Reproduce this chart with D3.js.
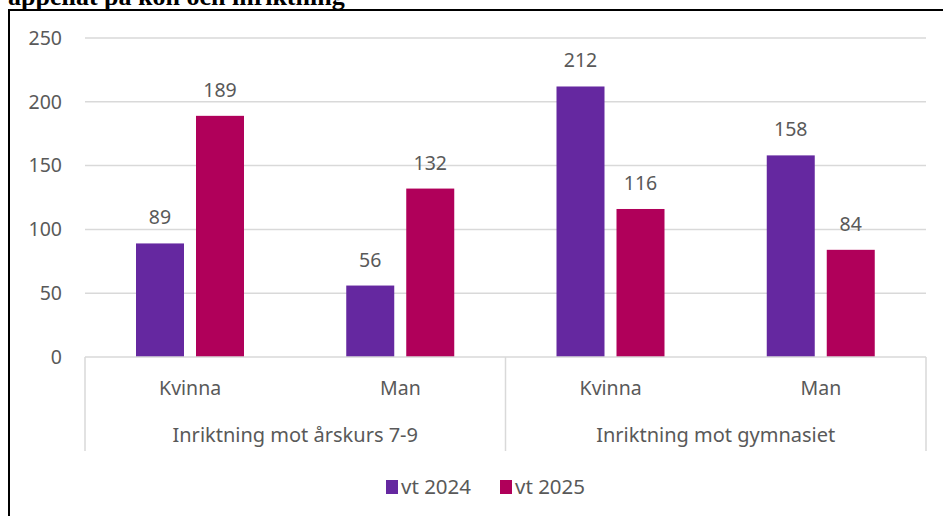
<!DOCTYPE html>
<html>
<head>
<meta charset="utf-8">
<script src="https://cdn.jsdelivr.net/npm/d3@7"></script>
<style>
  body { margin: 0; background: #fff; }
  svg { display: block; }
</style>
</head>
<body>
<script>
const groups = ["Inriktning mot årskurs 7-9", "Inriktning mot gymnasiet"];
const genders = ["Kvinna", "Man"];
const series = ["vt 2024", "vt 2025"];
const vt2024 = [89, 56, 212, 158];
const vt2025 = [189, 132, 116, 84];
const yTicks = [0, 50, 100, 150, 200, 250];
const colors = ["#6528a0", "#b0005a"];

const w = 943, h = 516;
const svg = d3.select("body").append("svg")
  .attr("width", w).attr("height", h);

// cut-off title and frame
svg.append("text")
  .attr("x", 8).attr("y", 5)
  .attr("font-family", "Liberation Serif, serif")
  .attr("font-weight", "bold")
  .attr("font-size", 26)
  .attr("fill", "#000")
  .text("appellat på kön och inriktning");

svg.append("rect")
  .attr("x", 9).attr("y", 10)
  .attr("width", 950).attr("height", 520)
  .attr("fill", "none")
  .attr("stroke", "#000")
  .attr("stroke-width", 2);

const cats = [];
groups.forEach(g => genders.forEach(s => cats.push(g + "|" + s)));

const x0 = d3.scaleBand().domain(cats).range([85, 926]);
const x1 = d3.scaleBand().domain(series).range([51, 159]).paddingInner(0.2);
const y = d3.scaleLinear().domain([0, 250]).range([357, 38]);

const font = "Noto Sans, Open Sans, sans-serif";
const grey = "#595959";
const fs = 19.5;

// gridlines
svg.append("g").selectAll("line")
  .data(yTicks.filter(d => d > 0))
  .join("line")
  .attr("x1", 85).attr("x2", 926)
  .attr("y1", d => y(d)).attr("y2", d => y(d))
  .attr("stroke", "#d9d9d9").attr("stroke-width", 1.5);

// y labels
svg.append("g").selectAll("text")
  .data(yTicks)
  .join("text")
  .attr("x", 62).attr("y", d => y(d))
  .attr("dy", "0.35em")
  .attr("text-anchor", "end")
  .attr("font-family", font).attr("font-size", fs)
  .attr("fill", grey)
  .text(d => d);

const rows = cats.map((c, i) => ({ cat: c, vals: [vt2024[i], vt2025[i]] }));

// bars
const cg = svg.append("g").selectAll("g")
  .data(rows)
  .join("g")
  .attr("transform", d => `translate(${x0(d.cat)},0)`);

cg.selectAll("rect")
  .data(d => d.vals.map((v, i) => ({ s: series[i], v, i })))
  .join("rect")
  .attr("x", d => x1(d.s))
  .attr("width", x1.bandwidth())
  .attr("y", d => y(d.v))
  .attr("height", d => y(0) - y(d.v))
  .attr("fill", d => colors[d.i]);

cg.selectAll("text")
  .data(d => d.vals.map((v, i) => ({ s: series[i], v })))
  .join("text")
  .attr("x", d => x1(d.s) + x1.bandwidth() / 2)
  .attr("y", d => y(d.v) - 19)
  .attr("text-anchor", "middle")
  .attr("font-family", font).attr("font-size", fs)
  .attr("fill", grey)
  .text(d => d.v);

// category axis
const axis = svg.append("g");
axis.append("line")
  .attr("x1", 85).attr("x2", 926)
  .attr("y1", y(0)).attr("y2", y(0))
  .attr("stroke", "#d9d9d9").attr("stroke-width", 1.5);

const seps = [x0(cats[0]), x0(cats[2]), x0(cats[3]) + x0.bandwidth()];
axis.selectAll("line.sep")
  .data(seps)
  .join("line")
  .attr("class", "sep")
  .attr("x1", d => d).attr("x2", d => d)
  .attr("y1", y(0)).attr("y2", 451)
  .attr("stroke", "#d9d9d9").attr("stroke-width", 1.5);

axis.selectAll("text.sub")
  .data(cats)
  .join("text")
  .attr("class", "sub")
  .attr("x", d => x0(d) + x0.bandwidth() / 2)
  .attr("y", 395)
  .attr("text-anchor", "middle")
  .attr("font-family", font).attr("font-size", fs)
  .attr("fill", grey)
  .text(d => d.split("|")[1]);

axis.selectAll("text.grp")
  .data(groups)
  .join("text")
  .attr("class", "grp")
  .attr("x", (d, i) => x0(cats[i * 2]) + x0.bandwidth())
  .attr("y", 442)
  .attr("text-anchor", "middle")
  .attr("font-family", font).attr("font-size", 20)
  .attr("fill", grey)
  .text(d => d);

// legend
const legX = [386, 500];
const leg = svg.append("g").selectAll("g")
  .data(series)
  .join("g")
  .attr("transform", (d, i) => `translate(${legX[i]},480)`);
leg.append("rect")
  .attr("width", 12).attr("height", 14)
  .attr("fill", (d, i) => colors[i]);
leg.append("text")
  .attr("x", 15).attr("y", 7)
  .attr("dy", "0.35em")
  .attr("font-family", font).attr("font-size", 20.5)
  .attr("fill", grey)
  .text(d => d);
</script>
</body>
</html>
